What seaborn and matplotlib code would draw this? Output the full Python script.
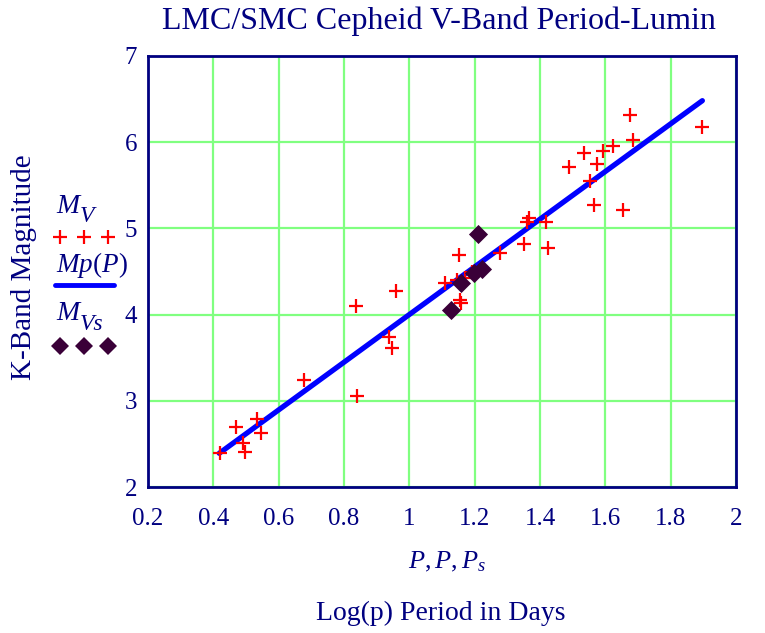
import matplotlib
matplotlib.use("Agg")
import matplotlib.pyplot as plt
from matplotlib.lines import Line2D
import seaborn as sns
import pandas as pd

# ---- data ----
p_lmc = [0.420, 0.469, 0.492, 0.497, 0.535, 0.546, 0.678, 0.837, 0.840, 0.939,
         0.946, 0.958, 1.109, 1.145, 1.170, 1.152, 1.155, 1.157, 1.192, 1.278,
         1.352, 1.359, 1.367, 1.418, 1.424, 1.490, 1.536, 1.553, 1.565, 1.574,
         1.594, 1.624, 1.655, 1.676, 1.684, 1.895]
mv_lmc = [2.401, 2.702, 2.510, 2.405, 2.788, 2.626, 3.243, 4.100, 3.058, 3.738,
          3.610, 4.278, 4.370, 4.402, 4.421, 4.691, 4.170, 4.132, 4.495, 4.711,
          4.815, 5.077, 5.116, 5.073, 4.769, 5.714, 5.869, 5.548, 5.270, 5.745,
          5.896, 5.954, 5.213, 6.313, 6.023, 6.178]
p_smc = [1.128, 1.157, 1.197, 1.222, 1.211]
mv_smc = [4.054, 4.370, 4.479, 4.531, 4.940]
fit_p = [0.418, 1.897]
fit_m = [2.394, 6.479]
x_ticks = [0.2, 0.4, 0.6, 0.8, 1.0, 1.2, 1.4, 1.6, 1.8, 2.0]
x_tick_labels = ["0.2", "0.4", "0.6", "0.8", "1", "1.2", "1.4", "1.6", "1.8", "2"]
y_ticks = [2, 3, 4, 5, 6, 7]

NAVY = "#000080"
GRID = "#80FF80"
RED = "#FF0000"
BLUE = "#0000FF"
PURPLE = "#3A0038"

sns.set_theme(style="white")
plt.rcParams["font.family"] = ["Liberation Serif", "DejaVu Serif"]
plt.rcParams["mathtext.fontset"] = "custom"
plt.rcParams["mathtext.rm"] = "Liberation Serif"
plt.rcParams["mathtext.it"] = "Liberation Serif:italic"

W, H = 765, 633
fig = plt.figure(figsize=(W / 100, H / 100), dpi=100)
ax = fig.add_axes([148 / W, 1 - 487.3 / H, (736 - 148) / W, (487.3 - 55.7) / H])

df_l = pd.DataFrame({"P": p_lmc, "M": mv_lmc})
df_s = pd.DataFrame({"P": p_smc, "M": mv_smc})
df_f = pd.DataFrame({"P": fit_p, "M": fit_m})

sns.lineplot(data=df_f, x="P", y="M", ax=ax, color=BLUE, linewidth=3.8,
             solid_capstyle="round", zorder=3)
sns.scatterplot(data=df_l, x="P", y="M", ax=ax, marker="+", s=110,
                color=RED, linewidth=1.6, zorder=4)
sns.scatterplot(data=df_s, x="P", y="M", ax=ax, marker="D", s=95,
                color=PURPLE, edgecolor=PURPLE, linewidth=0, zorder=5)

ax.set_xlim(0.2, 2.0)
ax.set_ylim(2, 7)
ax.set_xticks(x_ticks)
ax.set_xticklabels(x_tick_labels)
ax.set_yticks(y_ticks)
ax.grid(True, color=GRID, linewidth=1.6)
ax.set_axisbelow(True)
ax.tick_params(axis="both", length=0, labelsize=18, colors=NAVY)
ax.tick_params(axis="x", pad=15)
ax.tick_params(axis="y", pad=8)
for s in ax.spines.values():
    s.set_color(NAVY)
    s.set_linewidth(2)
    s.set_visible(True)
ax.set_xlabel("")
ax.set_ylabel("")

# titles / labels
fig.text(439 / W, 1 - 21 / H, "LMC/SMC Cepheid V-Band Period-Lumin",
         ha="center", va="center", fontsize=23, color=NAVY)
fig.text(447 / W, 1 - 562 / H, r"$P,P,P_s$", ha="center", va="center",
         fontsize=19, color=NAVY)
fig.text(441 / W, 1 - 613 / H, "Log(p) Period in Days", ha="center",
         va="center", fontsize=20, color=NAVY)
fig.text(24 / W, 1 - 267 / H, "K-Band Magnitude", ha="center", va="center",
         rotation=90, fontsize=21, color=NAVY)


# legend (Mathcad style: label above sample)
def fx(px):
    return px / W


def fy(py):
    return 1 - py / H


ital = dict(style="italic", color=NAVY, va="baseline", ha="left")
fig.text(fx(56), fy(213), "M", fontsize=20, **ital)
fig.text(fx(80), fy(222), "V", fontsize=17, **ital)
fig.add_artist(Line2D([fx(60), fx(84), fx(108)], [fy(237)] * 3, linestyle="none",
                      marker="+", markersize=10, markeredgewidth=1.6, color=RED))
fig.text(fx(56), fy(272), r"$Mp(P)$", ha="left", va="baseline", fontsize=19.5,
         color=NAVY)
fig.add_artist(Line2D([fx(55), fx(114)], [fy(285), fy(285)], color=BLUE,
                      linewidth=3.5, solid_capstyle="round"))
fig.text(fx(56), fy(320), "M", fontsize=20, **ital)
fig.text(fx(80), fy(330), "Vs", fontsize=17, **ital)
fig.add_artist(Line2D([fx(60), fx(84), fx(108)], [fy(346)] * 3, linestyle="none",
                      marker="D", markersize=9, color=PURPLE, markeredgewidth=0))

fig.savefig("out.png", dpi=100)
